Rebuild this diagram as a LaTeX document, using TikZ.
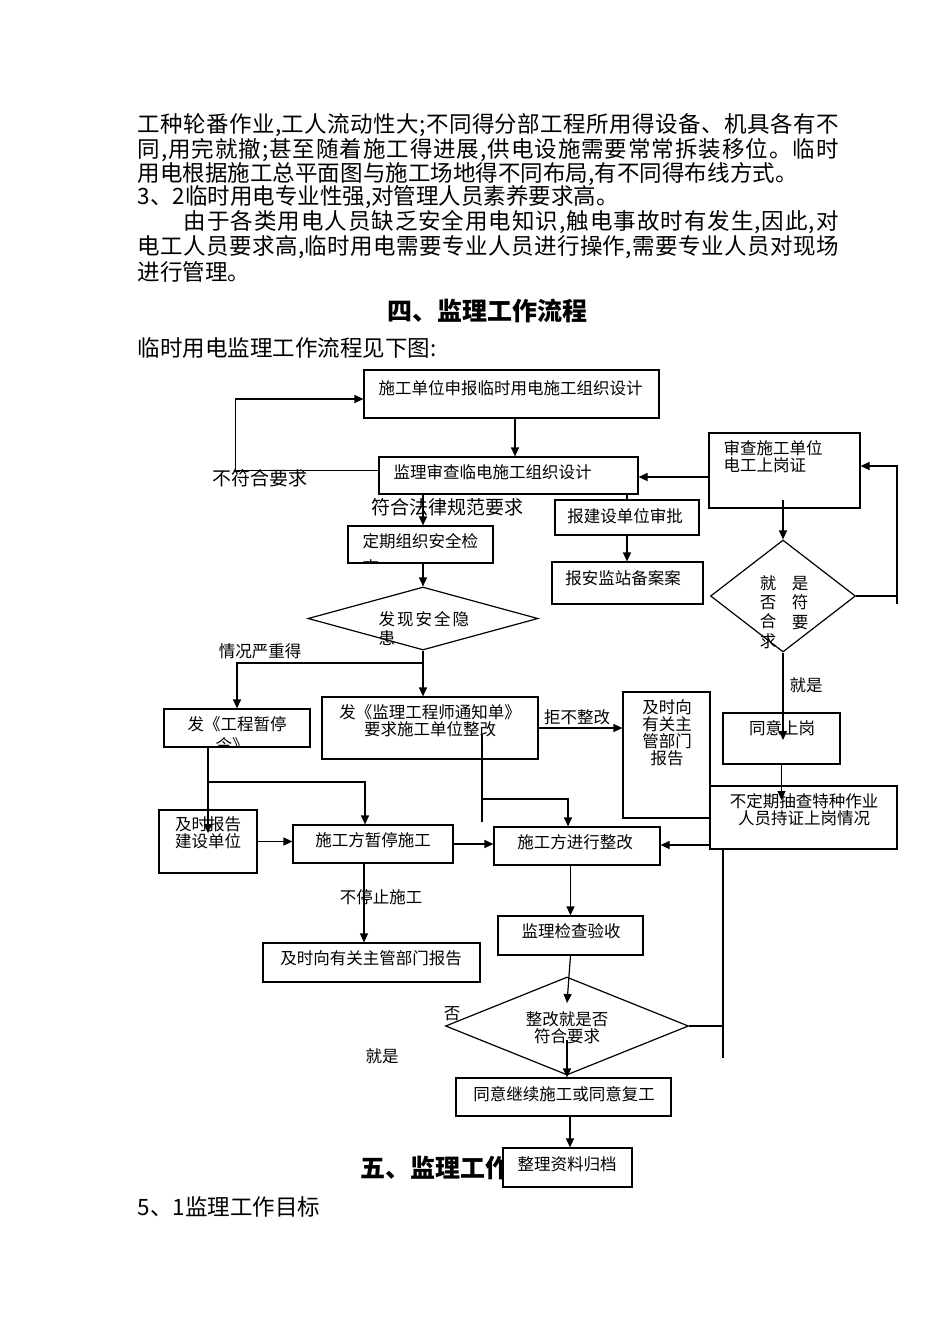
\documentclass[tikz,border=0pt]{standalone}
\usepackage{fontspec}
\setmainfont{Noto Sans CJK SC}
\usetikzlibrary{arrows.meta,shapes.geometric}
\newcommand{\fsz}[2]{\fontsize{#1pt}{#2pt}\selectfont}
\newcommand{\ls}{\kern2pt}
\ExplSyntaxOn
\bool_new:N \l_jl_first_bool
\NewDocumentCommand\justline{mm}
  {
    \hbox_to_wd:nn {#1}
      {
        \bool_set_true:N \l_jl_first_bool
        \tl_map_inline:nn {#2}
          {
            \bool_if:NTF \l_jl_first_bool
              { \bool_set_false:N \l_jl_first_bool }
              { \hfil }
            ##1
          }
      }
  }
\ExplSyntaxOff
\begin{document}
\begin{tikzpicture}[x=1pt,y=-1pt,line width=1.2pt,
  box/.style={draw, rectangle, inner sep=0pt},
  dia/.style={draw, diamond, inner sep=0pt},
  arr/.style={-{Triangle[length=9pt,width=8pt]}},
  t16/.style={inner sep=0pt, font=\fsz{16.5}{17}, align=center},
  t19/.style={inner sep=0pt, font=\fsz{19}{19}},
  body/.style={inner sep=0pt, anchor=west, font=\fsz{22.5}{24}},
  head/.style={inner sep=0pt, font=\fsz{25}{25}\bfseries}]
\fill[white] (0,0) rectangle (950,1344);
\useasboundingbox (0,0) rectangle (950,1344);

% body text
\node[body] (p1) at (137,125) {\justline{701pt}{工种轮番作业,工人流动性大;不同得分部工程所用得设备、机具各有不}};
\node[body] (p2) at (137,150) {\justline{701pt}{同,用完就撤;甚至随着施工得进展,供电设施需要常常拆装移位。临时}};
\node[body] (p3) at (137,174) {\justline{660pt}{用电根据施工总平面图与施工场地得不同布局,有不同得布线方式。}};
\node[body] (p4) at (137,197) {3、2临时用电专业性强,对管理人员素养要求高。};
\node[body] (p5) at (183,222) {\justline{655pt}{由于各类用电人员缺乏安全用电知识,触电事故时有发生,因此,对}};
\node[body] (p6) at (137,247) {\justline{701pt}{电工人员要求高,临时用电需要专业人员进行操作,需要专业人员对现场}};
\node[body] (p7) at (137,272) {进行管理。};
\node[head] (h4) at (487,311) {四、监理工作流程};
\node[body] (intro) at (137,348) {临时用电监理工作流程见下图:};
\node[body] (s51) at (137,1207) {5、1监理工作目标};
\node[head, anchor=west] (h5) at (360,1168) {五、监理工作};

% boxes
\node[box, minimum width=295pt, minimum height=48pt] (A) at (511.5,394) {};
\node[box, minimum width=259pt, minimum height=37pt] (B) at (508.5,475.5) {};
\node[box, minimum width=145pt, minimum height=37pt] (C) at (420.5,544.5) {};
\node[dia, minimum width=230pt, minimum height=63pt] (D) at (423,618.5) {};
\node[box, minimum width=146pt, minimum height=38pt] (E) at (237,728) {};
\node[box, minimum width=216pt, minimum height=62pt] (F) at (430,728) {};
\node[box, minimum width=87pt, minimum height=126pt] (G) at (666.5,755) {};
\node[box, minimum width=144pt, minimum height=35pt] (H) at (627,517.5) {};
\node[box, minimum width=151pt, minimum height=42pt] (I) at (627.5,583) {};
\node[box, minimum width=151pt, minimum height=75pt] (J) at (784.5,470.5) {};
\node[dia, minimum width=145pt, minimum height=112pt] (K) at (783,596) {};
\node[box, minimum width=117pt, minimum height=51pt] (L) at (781.5,738.5) {};
\node[box, minimum width=187pt, minimum height=63pt] (M) at (803.5,817.5) {};
\node[box, minimum width=166pt, minimum height=38pt] (N) at (577,846) {};
\node[box, minimum width=98pt, minimum height=63pt] (O) at (208,841.5) {};
\node[box, minimum width=160pt, minimum height=38pt] (P) at (373,844) {};
\node[box, minimum width=217pt, minimum height=39pt] (Q) at (371.5,962.5) {};
\node[box, minimum width=145pt, minimum height=39pt] (S) at (570.5,935.5) {};
\node[dia, minimum width=243pt, minimum height=98pt] (R) at (567,1026) {};
\node[box, minimum width=215pt, minimum height=38pt] (T) at (563.5,1097) {};
\node[box, fill=white, minimum width=129pt, minimum height=39pt] (U) at (567.5,1167.5) {};

% connectors
\draw[arr] ([xshift=3.5pt]A.south) -- ([xshift=3.5pt]A.south |- B.north);
\draw[arr] ([yshift=5pt]B.west) -- ++(-143,0) |- ([yshift=-5pt]A.west);
\draw[arr] (D.north |- B.south) -- (D.north |- C.north);
\draw[arr] (D.north |- C.south) -- (D.north);
\draw[arr] (D.south) -- (D.south |- F.north);
\coordinate (d1) at (423,663);
\draw[arr] (d1) -| (E.north);
\draw[arr] (F.east) -- (F.east -| G.west);
\draw (H.north |- B.south) -- (H.north);
\draw[arr] (H.south) -- (H.south |- I.north);
\draw[arr] (J.west |- 0,477) -- (B.east |- 0,477);
\draw[arr] (K.north |- 0,500) -- (K.north);
\coordinate (k1) at (897,604);
\draw (K.east) -- (K.east -| k1);
\draw[arr] (k1) |- (J.east |- 0,466);
\draw[arr] (K.south) -- (K.south |- 0,740);
\draw[arr] (L.south) -- (L.south |- 0,800);
\draw[arr] (M.west |- 0,845) -- (N.east |- 0,845);
\coordinate (m1) at (723,1058);
\draw (M.south -| m1) -- (m1);
\draw (R.east) -- (R.east -| m1);
\coordinate (f1) at (482,735);
\coordinate (f3) at (482,822);
\draw (f1) -- (f3);
\draw[arr] (f1 |- 0,799) -| ([xshift=-9pt]N.north);
\draw[arr] (O.north |- E.south) -- (O.north |- 0,833);
\draw[arr] (O.north |- 0,782) -| ([xshift=-8pt]P.north);
\draw[arr] (O.east) -- (O.east -| P.west);
\draw[arr] (P.east) -- (P.east -| N.west);
\coordinate (p0) at ([xshift=-9pt]P.south);
\draw[arr] (p0) -- (p0 |- Q.north);
\draw[arr] (S.north |- N.south) -- (S.north);
\draw[arr] (S.south) -- (R.center |- 0,1003);
\draw[arr] (R.center |- 0,1040) -- (R.center |- T.north);
\draw[arr] (T.south -| 570,0) -- (570,0 |- U.north);

% labels
\node[t19] (lab1) at (260,478) {不符合要求};
\node[t19] (lab2) at (447,507) {符合法律规范要求};
\node[t16] (lab3) at (260,651) {情况严重得};
\node[t16] (lab4) at (577,717) {拒不整改};
\node[t16] (lab5) at (806,685) {就是};
\node[t16] (lab6) at (381,897) {不停止施工};
\node[t16] (lab7) at (452,1014) {否};
\node[t16] (lab8) at (382,1056) {就是};

% box texts
\node[t16, anchor=west] (tA) at (378,388) {施工单位申报临时用电施工组织设计};
\node[t16, anchor=west] (tB) at (393,472) {监理审查临电施工组织设计};
\begin{scope}
\clip (C.south west) rectangle (C.north east);
\node[t16, anchor=west] (tC1) at (362,541) {定期组织安全检};
\node[t16, anchor=west] (tC2) at (362,567) {查};
\end{scope}
\node[t16, anchor=west] (tD1) at (378,619) {发\ls 现\ls 安\ls 全\ls 隐};
\node[t16, anchor=west] (tD2) at (378,638) {患};
\begin{scope}
\clip (E.south west) rectangle (E.north east);
\node[t16] (tE1) at (237,724) {发《工程暂停};
\node[t16] (tE2) at (232,745) {令》};
\end{scope}
\node[t16] (tF) at (430,720.5) {发《监理工程师通知单》\\要求施工单位整改};
\node[t16] (tG) at (667,732.5) {及时向\\有关主\\管部门\\报告};
\node[t16] (tH) at (625,516) {报建设单位审批};
\node[t16] (tI) at (623,578) {报安监站备案案};
\node[t16, anchor=west] (tJ1) at (723,448) {审查施工单位};
\node[t16, anchor=west] (tJ2) at (723,465) {电工上岗证};
\node[inner sep=0pt, font=\fsz{16.5}{19.3}, align=center] (tK1) at (768,612) {就\\否\\合\\求};
\node[inner sep=0pt, font=\fsz{16.5}{19.3}, align=center] (tK2) at (800,603) {是\\符\\要};
\node[t16] (tL) at (782,728) {同意上岗};
\node[t16] (tM) at (804,809.5) {不定期抽查特种作业\\人员持证上岗情况};
\node[t16] (tN) at (575,842) {施工方进行整改};
\node[t16] (tO) at (208,832.5) {及时报告\\建设单位};
\node[t16] (tP) at (373,840) {施工方暂停施工};
\node[t16] (tQ) at (371,958) {及时向有关主管部门报告};
\node[t16] (tS) at (571,931) {监理检查验收};
\node[t16] (tR) at (567,1027.5) {整改就是否\\符合要求};
\node[t16] (tT) at (564,1094) {同意继续施工或同意复工};
\node[t16] (tU) at (567,1164) {整理资料归档};
\end{tikzpicture}
\end{document}
